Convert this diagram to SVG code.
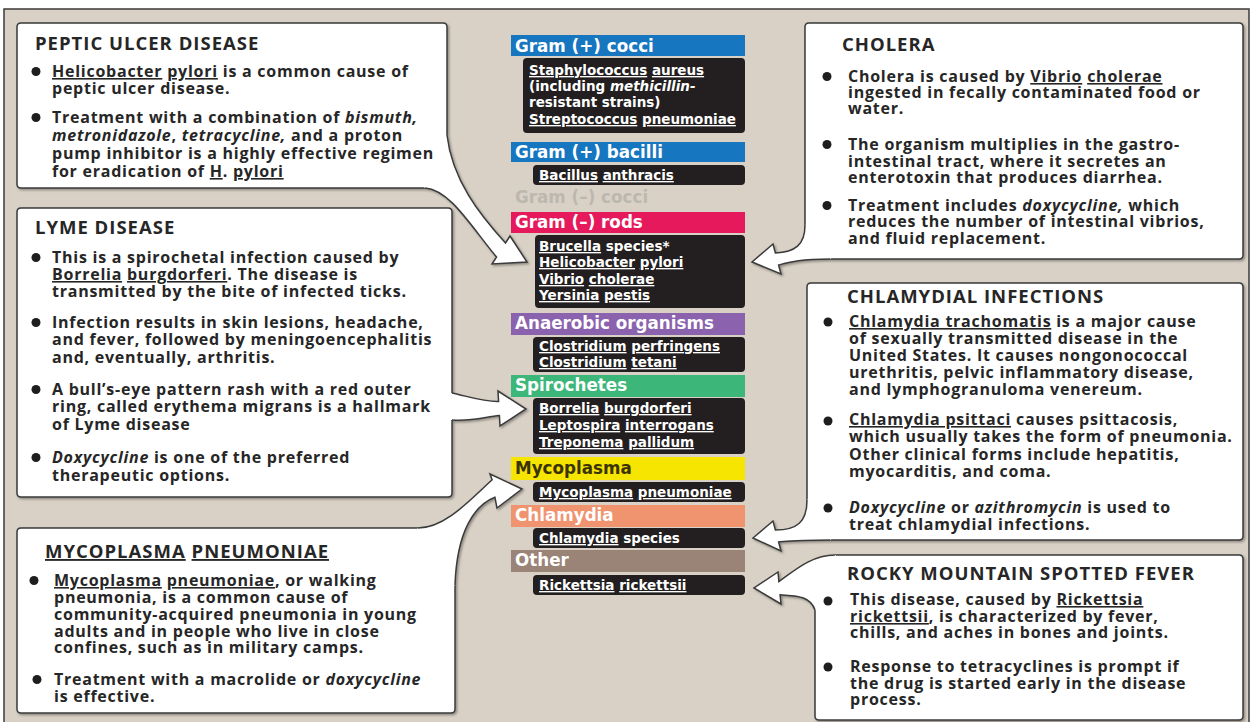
<svg xmlns="http://www.w3.org/2000/svg" width="1251" height="722" viewBox="0 0 1251 722">
  <defs>
    <filter id="shadow" x="-5%" y="-5%" width="110%" height="110%">
      <feDropShadow dx="1.5" dy="1.5" stdDeviation="1.3" flood-color="#000" flood-opacity="0.35"/>
    </filter>
    <style>
      .panel { fill: #d9d1c5; stroke: #3c3a38; stroke-width: 1.5; }
      .box { fill: #ffffff; stroke: #3a3a3a; stroke-width: 1.5; stroke-linejoin: round; }
      .afill { fill: #ffffff; stroke: none; }
      .aline { fill: none; stroke: #3a3a3a; stroke-width: 1.5; stroke-linejoin: miter; }
      .t { font-family: "Open Sans", "Liberation Sans", sans-serif; font-weight: 700; font-size: 18.5px; letter-spacing: 1px; fill: #262626; }
      .b { font-family: "Open Sans", "Liberation Sans", sans-serif; font-weight: 700; font-size: 16px; letter-spacing: 0.75px; fill: #262626; }
      .dot { fill: #1e1e1e; }
      .u { text-decoration: underline; }
      .i { font-style: italic; }
      .hd { font-family: "DejaVu Sans", "Liberation Sans", sans-serif; font-weight: 700; font-size: 16.75px; fill: #ffffff; }
      .blk { fill: #231f20; }
      .bx { font-family: "DejaVu Sans", "Liberation Sans", sans-serif; font-weight: 700; font-size: 13.5px; fill: #ffffff; }
    </style>
  </defs>

  <rect width="1251" height="722" fill="#ffffff"/>
  <rect class="panel" x="4" y="9" width="1245" height="716"/>

  <!-- organism column -->
  <g id="gram-pos-cocci">
    <rect x="511" y="35" width="234" height="21" fill="#1776c0"/>
    <text class="hd" x="515" y="52">Gram (+) cocci</text>
    <rect class="blk" x="523" y="58" width="222" height="75" rx="4"/>
    <text class="bx">
      <tspan x="529" y="75"><tspan class="u">Staphylococcus</tspan> <tspan class="u">aureus</tspan></tspan>
      <tspan x="529" y="91">(including <tspan class="i">methicillin-</tspan></tspan>
      <tspan x="529" y="107">resistant strains)</tspan>
      <tspan x="529" y="124"><tspan class="u">Streptococcus</tspan> <tspan class="u">pneumoniae</tspan></tspan>
    </text>
  </g>
  <g id="gram-pos-bacilli">
    <rect x="511" y="142" width="234" height="20" fill="#1776c0"/>
    <text class="hd" x="515" y="158">Gram (+) bacilli</text>
    <rect class="blk" x="533" y="165" width="212" height="20" rx="4"/>
    <text class="bx" x="539" y="180"><tspan class="u">Bacillus</tspan> <tspan class="u">anthracis</tspan></text>
  </g>
  <g id="gram-neg-cocci">
    <text class="hd" x="515" y="203" style="fill:#bcb8af">Gram (–) cocci</text>
  </g>
  <g id="gram-neg-rods">
    <rect x="511" y="212" width="234" height="21" fill="#e5195b"/>
    <text class="hd" x="515" y="228">Gram (–) rods</text>
    <rect class="blk" x="535" y="235" width="210" height="73" rx="4"/>
    <text class="bx">
      <tspan x="539" y="251"><tspan class="u">Brucella</tspan> species*</tspan>
      <tspan x="539" y="267"><tspan class="u">Helicobacter</tspan> <tspan class="u">pylori</tspan></tspan>
      <tspan x="539" y="284"><tspan class="u">Vibrio</tspan> <tspan class="u">cholerae</tspan></tspan>
      <tspan x="539" y="300"><tspan class="u">Yersinia</tspan> <tspan class="u">pestis</tspan></tspan>
    </text>
  </g>
  <g id="anaerobic">
    <rect x="511" y="313" width="234" height="22" fill="#8a62ad"/>
    <text class="hd" x="515" y="329">Anaerobic organisms</text>
    <rect class="blk" x="533" y="337" width="212" height="35" rx="4"/>
    <text class="bx">
      <tspan x="539" y="351"><tspan class="u">Clostridium</tspan> <tspan class="u">perfringens</tspan></tspan>
      <tspan x="539" y="367"><tspan class="u">Clostridium</tspan> <tspan class="u">tetani</tspan></tspan>
    </text>
  </g>
  <g id="spirochetes">
    <rect x="511" y="375" width="234" height="22" fill="#3db67a"/>
    <text class="hd" x="515" y="391">Spirochetes</text>
    <rect class="blk" x="533" y="398" width="212" height="56" rx="4"/>
    <text class="bx">
      <tspan x="539" y="413"><tspan class="u">Borrelia</tspan> <tspan class="u">burgdorferi</tspan></tspan>
      <tspan x="539" y="430"><tspan class="u">Leptospira</tspan> <tspan class="u">interrogans</tspan></tspan>
      <tspan x="539" y="447"><tspan class="u">Treponema</tspan> <tspan class="u">pallidum</tspan></tspan>
    </text>
  </g>
  <g id="mycoplasma">
    <rect x="511" y="457" width="234" height="23" fill="#f6e500"/>
    <text class="hd" x="515" y="474" style="fill:#3b3300">Mycoplasma</text>
    <rect class="blk" x="533" y="482" width="212" height="20" rx="4"/>
    <text class="bx" x="539" y="497"><tspan class="u">Mycoplasma</tspan> <tspan class="u">pneumoniae</tspan></text>
  </g>
  <g id="chlamydia">
    <rect x="511" y="505" width="234" height="22" fill="#f0936f"/>
    <text class="hd" x="515" y="521">Chlamydia</text>
    <rect class="blk" x="533" y="528" width="212" height="20" rx="4"/>
    <text class="bx" x="539" y="543"><tspan class="u">Chlamydia</tspan> species</text>
  </g>
  <g id="other">
    <rect x="511" y="550" width="234" height="22" fill="#9a8377"/>
    <text class="hd" x="515" y="566">Other</text>
    <rect class="blk" x="533" y="575" width="212" height="20" rx="4"/>
    <text class="bx" x="539" y="590"><tspan class="u">Rickettsia</tspan> <tspan class="u">rickettsii</tspan></text>
  </g>

  <!-- disease callouts: open outlines, the arrows close each gap -->
  <g filter="url(#shadow)">
    <g id="peptic-ulcer">
      <path class="box" d="M425,188 L21,188 Q17,188 17,184 L17,27 Q17,23 21,23 L443,23 Q447,23 447,27 L447,135"/>
    </g>
    <g id="lyme">
      <path class="box" d="M452,420 L452,493 Q452,497 448,497 L21,497 Q17,497 17,493 L17,212 Q17,208 21,208 L448,208 Q452,208 452,212 L452,393"/>
    </g>
    <g id="mycoplasma-pneumoniae">
      <path class="box" d="M455,585 L455,709 Q455,713 451,713 L21,713 Q17,713 17,709 L17,532 Q17,528 21,528 L418,528"/>
    </g>
    <g id="cholera">
      <path class="box" d="M830,259 L1239,259 Q1243,259 1243,255 L1243,27 Q1243,23 1239,23 L809,23 Q805,23 805,27 L805,225"/>
    </g>
    <g id="chlamydial">
      <path class="box" d="M830,540 L1239,540 Q1243,540 1243,536 L1243,287 Q1243,283 1239,283 L811,283 Q807,283 807,287 L807,500"/>
    </g>
    <g id="rocky-mountain">
      <path class="box" d="M835,555 L1239,555 Q1243,555 1243,559 L1243,716 Q1243,720 1239,720 L819,720 Q815,720 815,716 L815,610"/>
    </g>

    <g id="connectors">
      <g id="arrow-peptic-ulcer">
        <path class="afill" d="M447,135 C452,180 480,215 505.5,243 L510,236 L527,262 L492,264 L496.5,257 C470,225 450,190 425,188 L418,182 L438,132 Z"/>
        <path class="aline" d="M447,135 C452,180 480,215 505.5,243 L510,236 L527,262 L492,264 L496.5,257 C470,225 450,190 425,188"/>
      </g>
      <g id="arrow-lyme">
        <path class="afill" d="M452,393 C470,397 485,402 498.6,401.5 L498,391 L526,409 L500,426 L499.4,415.5 C485,417 470,422 452,420 L440,420 L440,393 Z"/>
        <path class="aline" d="M452,393 C470,397 485,402 498.6,401.5 L498,391 L526,409 L500,426 L499.4,415.5 C485,417 470,422 452,420"/>
      </g>
      <g id="arrow-mycoplasma">
        <path class="afill" d="M418,528 C445,528 470,500 492.1,479.7 L490,474 L522,489 L497,508 L494.9,497.3 C475,505 457,530 455,585 L444,596 L410,540 L416,530 Z"/>
        <path class="aline" d="M418,528 C445,528 470,500 492.1,479.7 L490,474 L522,489 L497,508 L494.9,497.3 C475,505 457,530 455,585"/>
      </g>
      <g id="arrow-cholera">
        <path class="afill" d="M805,225 C805,245 795,252 775.4,253 L773,244 L752,262 L781,274 L778.6,265 C790,262 800,259 830,259 L840,252 L818,228 L812,222 Z"/>
        <path class="aline" d="M805,225 C805,245 795,252 775.4,253 L773,244 L752,262 L781,274 L778.6,265 C790,262 800,259 830,259"/>
      </g>
      <g id="arrow-chlamydial">
        <path class="afill" d="M807,500 C807,522 797,530 775.4,530 L773,521 L753,538 L781,551 L778.6,542 C790,541 800,540 830,540 L840,532 L818,506 L812,496 Z"/>
        <path class="aline" d="M807,500 C807,522 797,530 775.4,530 L773,521 L753,538 L781,551 L778.6,542 C790,541 800,540 830,540"/>
      </g>
      <g id="arrow-rocky-mountain">
        <path class="afill" d="M835,555 C812,555 795,570 778.9,581.6 L778,572 L754,588 L781,604 L780.1,594.8 C795,596 810,595 815,610 L826,614 L845,562 Z"/>
        <path class="aline" d="M835,555 C812,555 795,570 778.9,581.6 L778,572 L754,588 L781,604 L780.1,594.8 C795,596 810,595 815,610"/>
      </g>
    </g>
  </g>

  <!-- callout texts -->
  <g id="peptic-ulcer-text">
    <text class="t" x="35" y="50">PEPTIC ULCER DISEASE</text>
    <circle class="dot" cx="36" cy="71.5" r="4.5"/>
    <circle class="dot" cx="36" cy="117.5" r="4.5"/>
    <text class="b">
      <tspan x="52" y="77"><tspan class="u">Helicobacter</tspan> <tspan class="u">pylori</tspan> is a common cause of</tspan>
      <tspan x="52" y="94">peptic ulcer disease.</tspan>
      <tspan x="52" y="123">Treatment with a combination of <tspan class="i">bismuth,</tspan></tspan>
      <tspan x="52" y="141"><tspan class="i">metronidazole</tspan>, <tspan class="i">tetracycline,</tspan> and a proton</tspan>
      <tspan x="52" y="159">pump inhibitor is a highly effective regimen</tspan>
      <tspan x="52" y="177">for eradication of <tspan class="u">H</tspan>. <tspan class="u">pylori</tspan></tspan>
    </text>
  </g>

  <g id="lyme-text">
    <text class="t" x="35" y="234">LYME DISEASE</text>
    <circle class="dot" cx="36" cy="257.5" r="4.5"/>
    <circle class="dot" cx="36" cy="322.5" r="4.5"/>
    <circle class="dot" cx="36" cy="389.5" r="4.5"/>
    <circle class="dot" cx="36" cy="457.5" r="4.5"/>
    <text class="b">
      <tspan x="52" y="263">This is a spirochetal infection caused by</tspan>
      <tspan x="52" y="280"><tspan class="u">Borrelia</tspan> <tspan class="u">burgdorferi</tspan>. The disease is</tspan>
      <tspan x="52" y="297">transmitted by the bite of infected ticks.</tspan>
      <tspan x="52" y="328">Infection results in skin lesions, headache,</tspan>
      <tspan x="52" y="345">and fever, followed by meningoencephalitis</tspan>
      <tspan x="52" y="363">and, eventually, arthritis.</tspan>
      <tspan x="52" y="395">A bull’s-eye pattern rash with a red outer</tspan>
      <tspan x="52" y="412">ring, called erythema migrans is a hallmark</tspan>
      <tspan x="52" y="430">of Lyme disease</tspan>
      <tspan x="52" y="463"><tspan class="i">Doxycycline</tspan>  is one of the preferred</tspan>
      <tspan x="52" y="481">therapeutic options.</tspan>
    </text>
  </g>

  <g id="mycoplasma-pneumoniae-text">
    <text class="t" x="45" y="558"><tspan class="u">MYCOPLASMA</tspan> <tspan class="u">PNEUMONIAE</tspan></text>
    <circle class="dot" cx="34" cy="580.5" r="4.5"/>
    <circle class="dot" cx="37" cy="679.5" r="4.5"/>
    <text class="b">
      <tspan x="54" y="586"><tspan class="u">Mycoplasma</tspan> <tspan class="u">pneumoniae</tspan>, or walking</tspan>
      <tspan x="54" y="603">pneumonia, is a common cause of</tspan>
      <tspan x="54" y="620">community-acquired pneumonia in young</tspan>
      <tspan x="54" y="637">adults and in people who live in close</tspan>
      <tspan x="54" y="653">confines, such as in military camps.</tspan>
      <tspan x="54" y="685">Treatment with a macrolide or <tspan class="i">doxycycline</tspan></tspan>
      <tspan x="54" y="702">is effective.</tspan>
    </text>
  </g>

  <g id="cholera-text">
    <text class="t" x="842" y="51">CHOLERA</text>
    <circle class="dot" cx="827" cy="76.5" r="4.5"/>
    <circle class="dot" cx="827" cy="144.5" r="4.5"/>
    <circle class="dot" cx="827" cy="205.5" r="4.5"/>
    <text class="b">
      <tspan x="848" y="82">Cholera is caused by <tspan class="u">Vibrio</tspan> <tspan class="u">cholerae</tspan></tspan>
      <tspan x="848" y="98">ingested in fecally contaminated food or</tspan>
      <tspan x="848" y="114">water.</tspan>
      <tspan x="848" y="150">The organism multiplies in the gastro-</tspan>
      <tspan x="848" y="167">intestinal tract, where it secretes an</tspan>
      <tspan x="848" y="183">enterotoxin that produces diarrhea.</tspan>
      <tspan x="848" y="211">Treatment includes <tspan class="i">doxycycline,</tspan> which</tspan>
      <tspan x="848" y="227">reduces the number of intestinal vibrios,</tspan>
      <tspan x="848" y="244">and fluid replacement.</tspan>
    </text>
  </g>

  <g id="chlamydial-text">
    <text class="t" x="847" y="303">CHLAMYDIAL INFECTIONS</text>
    <circle class="dot" cx="828" cy="322" r="4.5"/>
    <circle class="dot" cx="828" cy="421" r="4.5"/>
    <circle class="dot" cx="828" cy="508" r="4.5"/>
    <text class="b">
      <tspan x="849" y="327"><tspan class="u">Chlamydia trachomatis</tspan> is a major cause</tspan>
      <tspan x="849" y="344">of sexually transmitted disease in the</tspan>
      <tspan x="849" y="361">United States. It causes nongonococcal</tspan>
      <tspan x="849" y="378">urethritis, pelvic inflammatory disease,</tspan>
      <tspan x="849" y="395">and lymphogranuloma venereum.</tspan>
      <tspan x="849" y="425"><tspan class="u">Chlamydia psittaci</tspan> causes psittacosis,</tspan>
      <tspan x="849" y="442">which usually takes the form of pneumonia.</tspan>
      <tspan x="849" y="460">Other clinical forms include hepatitis,</tspan>
      <tspan x="849" y="477">myocarditis, and coma.</tspan>
      <tspan x="849" y="513"><tspan class="i">Doxycycline</tspan> or <tspan class="i">azithromycin</tspan> is used to</tspan>
      <tspan x="849" y="530">treat chlamydial infections.</tspan>
    </text>
  </g>

  <g id="rocky-mountain-text">
    <text class="t" x="847" y="580">ROCKY MOUNTAIN SPOTTED FEVER</text>
    <circle class="dot" cx="828" cy="601" r="4.5"/>
    <circle class="dot" cx="828" cy="667" r="4.5"/>
    <text class="b">
      <tspan x="850" y="605">This disease, caused by <tspan class="u">Rickettsia</tspan></tspan>
      <tspan x="850" y="622"><tspan class="u">rickettsii</tspan>, is characterized by fever,</tspan>
      <tspan x="850" y="638">chills, and aches in bones and joints.</tspan>
      <tspan x="850" y="672">Response to tetracyclines is prompt if</tspan>
      <tspan x="850" y="689">the drug is started early in the disease</tspan>
      <tspan x="850" y="705">process.</tspan>
    </text>
  </g>
</svg>
